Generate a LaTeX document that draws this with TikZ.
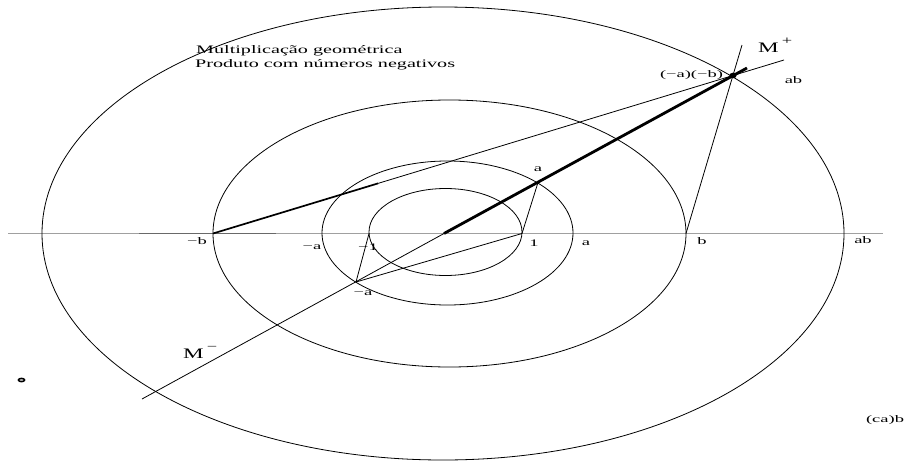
\documentclass[tikz,border=0pt]{standalone}
\usepackage{fontspec}
\setmainfont{Liberation Serif}
\newfontfamily\labfont[FakeStretch=1.85]{Liberation Serif}
\newfontfamily\titfont[FakeStretch=1.75]{Liberation Serif}
\newfontfamily\bigmfont[FakeStretch=1.6]{Liberation Serif}
\definecolor{axisgray}{RGB}{160,160,160}
\definecolor{axisdark}{RGB}{105,105,105}
\begin{document}
\begin{tikzpicture}[x=1pt,y=-1pt,
  thinline/.style={line width=0.8pt,black},
  curve/.style={line width=0.8pt,black},
  boldline/.style={line width=2.8pt,black},
  medline/.style={line width=1.7pt,black},
  lab/.style={inner sep=0pt,font=\labfont\fontsize{10}{12}\selectfont},
  tit/.style={inner sep=0pt,anchor=base west,font=\titfont\fontsize{11.5}{14}\selectfont},
  mlab/.style={inner sep=0pt,anchor=base west,font=\bigmfont\fontsize{14.5}{16}\selectfont}]
\useasboundingbox (0,0) rectangle (911,461);
\fill[white] (0,0) rectangle (911,461);

% points
\coordinate (O) at (444,233.5);
\coordinate (one) at (522,233.5);
\coordinate (mone) at (369,233.5);
\coordinate (A) at (538,182.5);
\coordinate (mA) at (356,282);
\coordinate (mB) at (213,233.5);
\coordinate (B) at (686,233.5);
\coordinate (P) at (733,75.5);
\coordinate (Mend) at (747,68);
\coordinate (Mstart) at (142,399);
\coordinate (Lend) at (784,60);
\coordinate (Tend) at (378,183.4);
\coordinate (Bend) at (742,45);
\coordinate (axL) at (8,233.5);
\coordinate (axR) at (883,233.5);
\coordinate (dkL) at (139,233.5);
\coordinate (dkR) at (276,233.5);
\coordinate (ring) at (21.5,380);

% axis
\draw[axisgray,line width=1.6pt] (axL) -- (axR);
\draw[axisdark,line width=1.6pt] (dkL) -- (dkR);

% ellipses
\draw[curve] (445.5,232) ellipse [x radius=76.5pt, y radius=43.5pt];
\draw[curve] (447.5,233) ellipse [x radius=125.5pt, y radius=72pt];
\draw[curve] (449.5,233.5) ellipse [x radius=236.5pt, y radius=133.5pt];
\draw[curve] (443,233.5) ellipse [x radius=401pt, y radius=226.5pt];

% construction lines
\draw[thinline] (Mstart) -- (O);
\draw[boldline] (O) -- (Mend);
\draw[medline] (mB) -- (Tend);
\draw[thinline] (Tend) -- (Lend);
\draw[thinline] (B) -- (Bend);
\draw[thinline] (one) -- (A);
\draw[thinline] (one) -- (mA);
\draw[thinline] (mone) -- (mA);

% product point
\fill[black] (P) ellipse [x radius=3.6pt, y radius=2.8pt];
% small ring
\draw[line width=1.6pt] (ring) ellipse [x radius=3pt, y radius=1.6pt];

% texts
\node[tit] (t1) at (196,53) {Multiplicação geométrica};
\node[tit] (t2) at (195,67) {Produto com números negativos};
\node[mlab] (Mp) at (758,52) {M\hspace{3pt}\raisebox{0.5em}{\fontsize{11.5}{11.5}\selectfont +}};
\node[mlab] (Mm) at (183,358) {M\hspace{3pt}\raisebox{0.5em}{\fontsize{11.5}{11.5}\selectfont −}};
\node[lab] (lP) at (691.5,75) {(−a)(−b)};
\node[lab] (lab1) at (793.5,80.5) {ab};
\node[lab] (la1) at (538,169) {a};
\node[lab] (l1) at (534,243) {1};
\node[lab] (la2) at (586,243) {a};
\node[lab] (lma) at (312,247) {−a};
\node[lab] (lm1) at (368,247) {−1};
\node[lab] (lma2) at (363,293) {−a};
\node[lab] (lmb) at (197,241) {−b};
\node[lab] (lb) at (702,241) {b};
\node[lab] (lab2) at (863,240) {ab};
\node[lab] (lcab) at (885,420) {(ca)b};
\end{tikzpicture}
\end{document}
